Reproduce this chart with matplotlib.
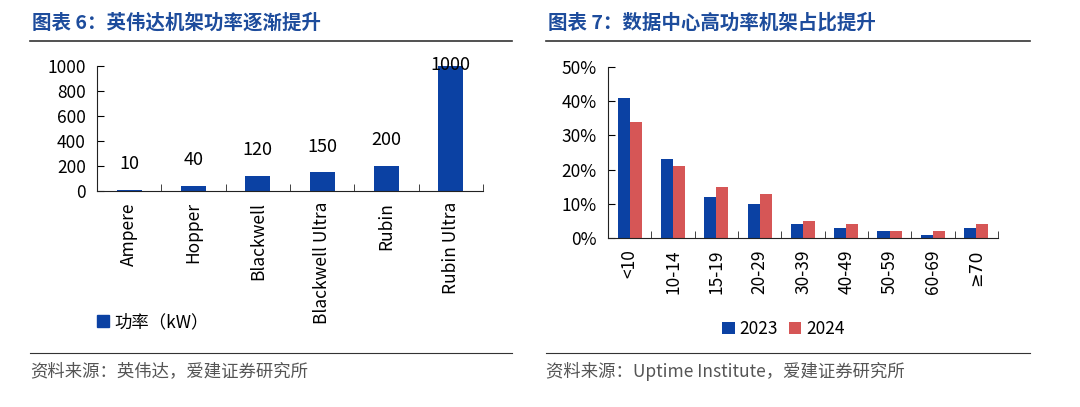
import numpy as np
import matplotlib.pyplot as plt
from matplotlib.patches import Patch
from matplotlib.ticker import FuncFormatter

plt.rcParams['font.family'] = ['Noto Sans CJK SC', 'DejaVu Sans']

# left chart data
gpu_names = ['Ampere', 'Hopper', 'Blackwell', 'Blackwell Ultra', 'Rubin', 'Rubin Ultra']
rack_kw = [10, 40, 120, 150, 200, 1000]

# right chart data
kw_bins = ['<10', '10-14', '15-19', '20-29', '30-39', '40-49', '50-59', '60-69', '≥70']
share_2023 = [0.41, 0.23, 0.12, 0.10, 0.04, 0.03, 0.02, 0.01, 0.03]
share_2024 = [0.34, 0.21, 0.15, 0.13, 0.05, 0.04, 0.02, 0.02, 0.04]

BLUE = '#0B41A3'
RED = '#D65656'
TITLE = '#1D4C9C'
GREY = '#555555'

fig = plt.figure(figsize=(10.8, 4.07), dpi=100)


def style_axes(ax):
    for s in ['top', 'right']:
        ax.spines[s].set_visible(False)
    ax.spines['left'].set_color('#222222')
    ax.spines['bottom'].set_color('#222222')
    ax.tick_params(axis='y', direction='in', length=5, labelsize=12.5, pad=8)
    ax.tick_params(axis='x', which='minor', direction='in', length=5, color='#222222')
    ax.tick_params(axis='x', which='major', length=0, labelsize=12.5, pad=8)


# ---- left chart ----
ax1 = fig.add_axes([0.0898, 0.5307, 0.3574, 0.3071])
x1 = np.arange(len(gpu_names))
ax1.bar(x1, rack_kw, width=0.39, color=BLUE)
for xi, v in zip(x1, rack_kw):
    # the 1000 label sits over the bar top, the others float above
    off = 12 if v < 1000 else -6
    ax1.annotate(str(v), (xi, v), xytext=(0, off), textcoords='offset points',
                 ha='center', va='bottom', fontsize=13)
ax1.set_xlim(-0.5, len(gpu_names) - 0.5)
ax1.set_ylim(0, 1000)
ax1.set_yticks(range(0, 1001, 200))
ax1.set_xticks(x1)
ax1.set_xticklabels(gpu_names, rotation=90, va='top')
ax1.set_xticks(np.arange(0.5, len(gpu_names), 1), minor=True)
style_axes(ax1)
ax1.legend(handles=[Patch(color=BLUE, label='功率（kW）')], loc='center left',
           bbox_to_anchor=(-0.04, -1.05), frameon=False,
           fontsize=12.5, handlelength=0.7, handleheight=0.7, handletextpad=0.3)

# ---- right chart ----
ax2 = fig.add_axes([0.563, 0.4152, 0.361, 0.4202])
x2 = np.arange(len(kw_bins))
w = 0.28
ax2.bar(x2 - w / 2, share_2023, width=w, color=BLUE, label='2023')
ax2.bar(x2 + w / 2, share_2024, width=w, color=RED, label='2024')
ax2.set_xlim(-0.5, len(kw_bins) - 0.5)
ax2.set_ylim(0, 0.5)
ax2.set_yticks(np.arange(0, 0.51, 0.1))
ax2.yaxis.set_major_formatter(FuncFormatter(lambda v, p: f'{v * 100:.0f}%'))
ax2.set_xticks(x2)
ax2.set_xticklabels(kw_bins, rotation=90, va='top')
for lab in ax2.get_xticklabels():
    if lab.get_text().startswith('≥'):
        lab.set_family(['DejaVu Sans'])
ax2.set_xticks(np.arange(0.5, len(kw_bins), 1), minor=True)
style_axes(ax2)
ax2.legend(loc='upper center', bbox_to_anchor=(0.45, -0.39), ncol=2, frameon=False,
           fontsize=12.5, handlelength=0.7, handleheight=0.7, handletextpad=0.3,
           columnspacing=0.6)

# ---- titles, rules, sources ----
fig.text(0.030, 0.945, '图表 6：英伟达机架功率逐渐提升', fontsize=14, fontweight='bold',
         color=TITLE, va='center')
fig.text(0.507, 0.945, '图表 7：数据中心高功率机架占比提升', fontsize=14, fontweight='bold',
         color=TITLE, va='center')
for x0, x1_ in [(0.028, 0.474), (0.506, 0.954)]:
    fig.add_artist(plt.Line2D([x0, x1_], [0.899, 0.899], color='#333333', lw=1.2))
    fig.add_artist(plt.Line2D([x0, x1_], [0.133, 0.133], color='#333333', lw=0.8))
fig.text(0.028, 0.088, '资料来源：英伟达，爱建证券研究所', fontsize=12.5, color=GREY, va='center')
fig.text(0.506, 0.088, '资料来源：Uptime Institute，爱建证券研究所', fontsize=12.5, color=GREY,
         va='center')

fig.savefig('out.png', dpi=100)
